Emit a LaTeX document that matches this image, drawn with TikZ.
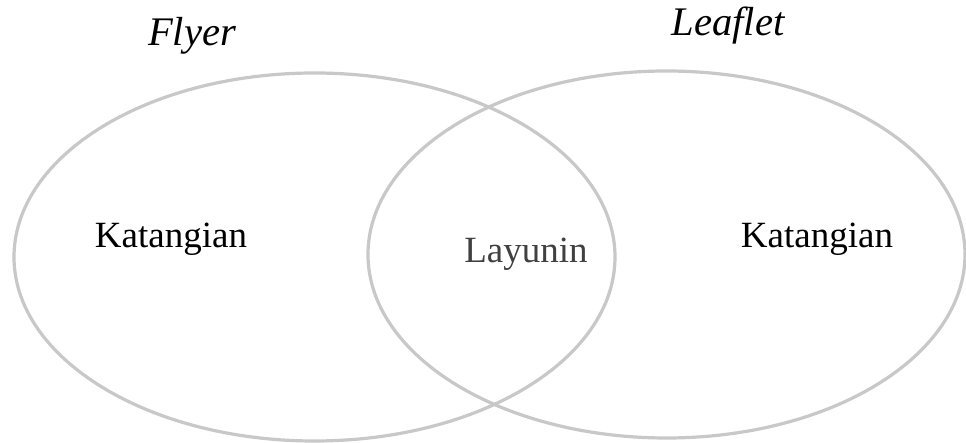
\documentclass[tikz,border=0pt]{standalone}
\usepackage{fontspec}
\setmainfont{Liberation Serif}
\newfontfamily\timesface{Liberation Serif}
\definecolor{ringgray}{HTML}{C8C8C8}
\definecolor{midtext}{HTML}{404040}
\begin{document}
\begin{tikzpicture}[x=0.5pt,y=-0.5pt,
  ring/.style={draw=ringgray,line width=1.6pt},
  body/.style={font=\timesface\fontsize{18.5pt}{22pt}\selectfont,anchor=base,inner sep=0pt},
  title/.style={font=\timesface\itshape\fontsize{20.3pt}{24pt}\selectfont,anchor=base,inner sep=0pt}]
\useasboundingbox (0,0) rectangle (966,443);
\fill[white] (0,0) rectangle (966,443);
\draw[ring] (314.5,257) ellipse [x radius=300.5*0.5pt, y radius=184*0.5pt];
\draw[ring] (666.5,254.5) ellipse [x radius=298.5*0.5pt, y radius=183.5*0.5pt];
\node[title] (flyer) at (192,46) {Flyer};
\node[title] (leaflet) at (728,36) {Leaflet};
\node[body] (katL) at (171,248) {Katangian};
\node[body] (katR) at (817,248) {Katangian};
\node[body,text=midtext] (lay) at (526,263) {Layunin};
\end{tikzpicture}
\end{document}
